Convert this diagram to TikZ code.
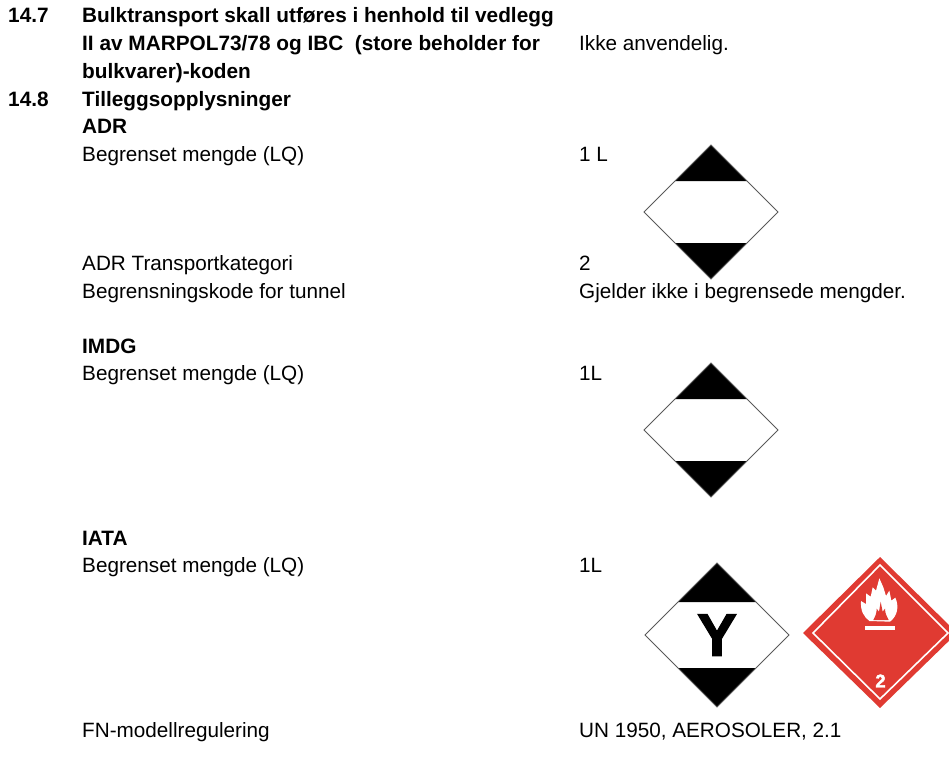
\documentclass[tikz,border=0pt]{standalone}
\usepackage{fontspec}
\setmainfont{Liberation Sans}
\newfontfamily\heavyfont[BoldFeatures={FakeBold=2}]{Liberation Sans}
\definecolor{hazardred}{RGB}{224,58,50}
\tikzset{
    txt/.style={anchor=base west,inner sep=0pt,font=\fontsize{20.7}{24}\selectfont},
    head/.style={txt,font=\fontsize{20.8}{24}\selectfont\bfseries},
}
\begin{document}
\begin{tikzpicture}[x=1pt,y=-1pt]
    \useasboundingbox (0,0) rectangle (949,760);
    % left column
    \node[head] (n147) at (8,23) {14.7};
    \node[head] (bulka) at (82,23) {Bulktransport skall utføres i henhold til vedlegg};
    \node[head] (bulkb) at (82,50) {II av MARPOL73/78 og IBC\ \ (store beholder for};
    \node[head] (bulkc) at (82,78) {bulkvarer)-koden};
    \node[head] (n148) at (8,106) {14.8};
    \node[head] (tillegg) at (82,106) {Tilleggsopplysninger};
    \node[head] (adr) at (82,133) {ADR};
    \node[txt] (lqa) at (82,161) {Begrenset mengde (LQ)};
    \node[txt] (kat) at (82,270) {ADR Transportkategori};
    \node[txt] (tunnel) at (82,298) {Begrensningskode for tunnel};
    \node[head] (imdg) at (82,353) {IMDG};
    \node[txt] (lqb) at (82,380) {Begrenset mengde (LQ)};
    \node[head] (iata) at (82,545) {IATA};
    \node[txt] (lqc) at (82,572) {Begrenset mengde (LQ)};
    \node[txt] (fn) at (82,737) {FN-modellregulering};
    % right column
    \node[txt] (ikke) at (579,50) {Ikke anvendelig.};
    \node[txt] (la) at (579,161) {1 L};
    \node[txt] (two) at (579,270) {2};
    \node[txt] (gjelder) at (579,298) {Gjelder ikke i begrensede mengder.};
    \node[txt] (lb) at (579,380) {1L};
    \node[txt] (lc) at (579,572) {1L};
    \node[txt] (un) at (579,737) {UN 1950, AEROSOLER, 2.1};
    % limited quantity marks
    \foreach \cy/\tipx/\half/\band in {212/711/67/31, 430/711/67/31, 635/717/72/33} {
        \fill[black] (\tipx,\cy-\half) -- ++(\half-\band,\half-\band) -- ++(-2*\half+2*\band,0) -- cycle;
        \fill[black] (\tipx,\cy+\half) -- ++(\half-\band,-\half+\band) -- ++(-2*\half+2*\band,0) -- cycle;
        \draw[black!65,line width=0.9pt] (\tipx-\half,\cy) -- (\tipx,\cy-\half) -- (\tipx+\half,\cy) -- (\tipx,\cy+\half) -- cycle;
    }
    \node[inner sep=0pt,font=\fontsize{60}{60}\selectfont\heavyfont\bfseries] (ymark) at (717,635) {Y};
    % flammable gas placard
    \fill[hazardred] (803,633) -- (880,557) -- (957,633) -- (880,708) -- cycle;
    \draw[white,line width=1.6pt] (813,633) -- (880,565) -- (948,633) -- (880,699) -- cycle;
    \begin{scope}[shift={(850,570)},scale=1/3]
        \fill[white] (45,167) rectangle (135,179);
        \fill[white] (58,153) .. controls (42,140) and (31,125) .. (33,93)
            -- (48,102) -- (48,70) -- (62,80) -- (68,52) -- (78,62) -- (88,25)
            -- (100,52) -- (108,78) -- (118,62) -- (124,92) -- (136,83)
            .. controls (148,110) and (142,138) .. (120,155) -- cycle;
        \fill[hazardred] (70,150) .. controls (76,138) and (80,130) .. (80,116)
            -- (87,125) -- (92,95) -- (98,125) -- (105,116)
            .. controls (105,130) and (110,138) .. (116,150) -- cycle;
    \end{scope}
    \node[inner sep=0pt,text=white,font=\fontsize{18.5}{18}\selectfont\heavyfont\bfseries] (gasclass) at (880.5,681) {2};
\end{tikzpicture}
\end{document}
